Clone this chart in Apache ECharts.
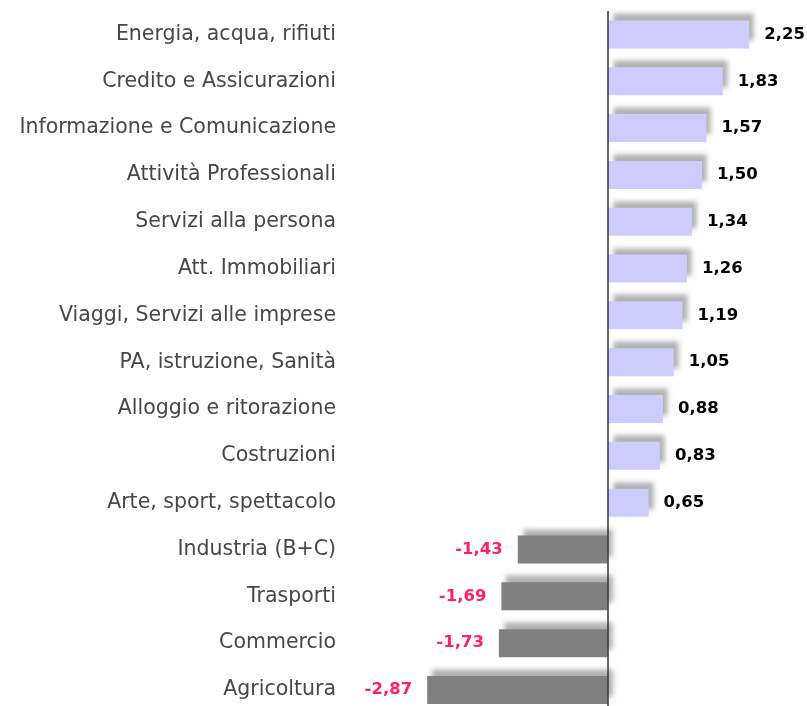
<!DOCTYPE html>
<html>
<head>
<meta charset="utf-8">
<script src="https://cdn.jsdelivr.net/npm/echarts@6/dist/echarts.min.js"></script>
<style>html,body{margin:0;padding:0;background:#fff;overflow:hidden;}#c{width:807px;height:720px;}</style>
</head>
<body>
<div id="c"></div>
<script>
const categories = ["Energia, acqua, rifiuti","Credito e Assicurazioni","Informazione e Comunicazione","Attività Professionali","Servizi alla persona","Att. Immobiliari","Viaggi, Servizi alle imprese","PA, istruzione, Sanità","Alloggio e ritorazione","Costruzioni","Arte, sport, spettacolo","Industria (B+C)","Trasporti","Commercio","Agricoltura"];
const values = [2.25,1.83,1.57,1.50,1.34,1.26,1.19,1.05,0.88,0.83,0.65,-1.43,-1.69,-1.73,-2.87];

const fmt = v => v.toFixed(2).replace('.', ',');
const chart = echarts.init(document.getElementById('c'), null, {renderer:'canvas'});
chart.setOption({
  animation:false,
  grid:{left:419, width:377.4, top:11, height:702.4, containLabel:false},
  xAxis:{type:'value', min:-3, max:3, show:false},
  yAxis:{type:'category', data:categories, inverse:true,
    axisLine:{show:false, onZero:false}, axisTick:{show:false}, splitLine:{show:false},
    axisLabel:{margin:83, color:'#474747', fontSize:20.5, fontWeight:'normal', fontFamily:'DejaVu Sans'}},
  series:[{
    type:'bar', barWidth:28,
    data: values.map(v => ({
      value:v,
      itemStyle:{color: v>=0 ? '#ccccff' : '#808080'},
      label:{position: v>=0 ? 'right':'left', color: v>=0 ? '#000' : '#ff1f6e'}
    })),
    itemStyle:{shadowColor:'rgba(110,110,110,0.55)', shadowBlur:5, shadowOffsetX:5, shadowOffsetY:-7},
    label:{show:true, distance:15, fontSize:16.5, fontWeight:'bold', fontFamily:'DejaVu Sans', formatter:p=>fmt(p.value)},
    markLine:{silent:true, symbol:'none', label:{show:false},
      lineStyle:{color:'#333', width:1.5, type:'solid'},
      data:[{xAxis:0}]}
  }]
});
</script>
</body>
</html>
